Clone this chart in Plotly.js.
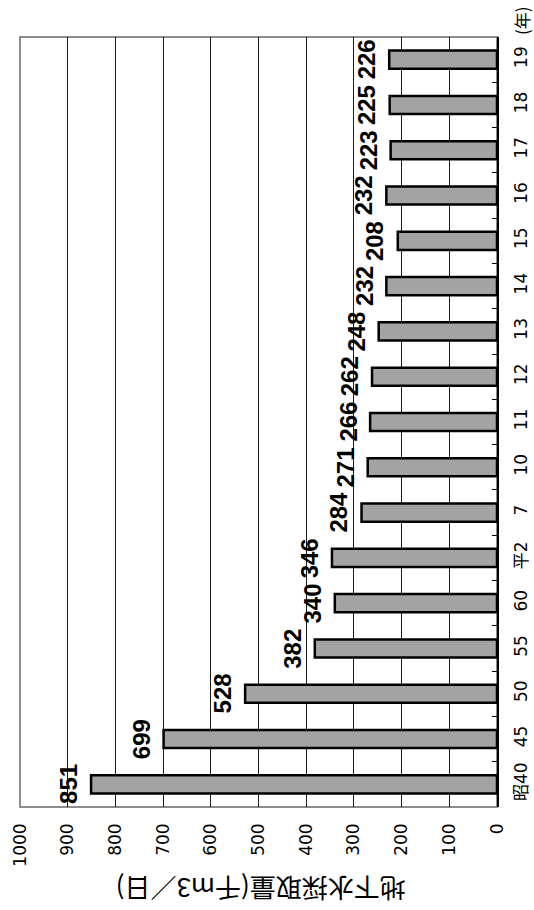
<!DOCTYPE html>
<html>
<head>
<meta charset="utf-8">
<script src="https://cdn.plot.ly/plotly-3.0.1.min.js"></script>
<style>
  html, body { margin: 0; padding: 0; background: #fff; }
  #chart { width: 534px; height: 910px; }
</style>
</head>
<body>
<div id="chart"></div>
<script>
// Data
const categories = ["昭40", "45", "50", "55", "60", "平2", "7", "10", "11", "12", "13", "14", "15", "16", "17", "18", "19"];
const values = [851, 699, 528, 382, 340, 346, 284, 271, 266, 262, 248, 232, 208, 232, 223, 225, 226];
const valueTicks = [0, 100, 200, 300, 400, 500, 600, 700, 800, 900, 1000];
const axisTitle = "地下水採取量(千m3／日)";
const unitLabel = "(年)";

const labelFont = { family: "'Liberation Sans', Arial, sans-serif", size: 24, color: "#000", weight: "bold" };
const xTickFont = { family: "'DejaVu Sans', 'Noto Sans CJK JP', sans-serif", size: 17, color: "#000" };
const yTickFont = { family: "'DejaVu Sans', 'Noto Sans CJK JP', sans-serif", size: 17, color: "#000" };

const trace = {
  type: "bar",
  orientation: "h",
  x: values,
  y: categories,
  marker: { color: "#a3a3a3", line: { color: "#000", width: 2.5 } },
  hoverinfo: "none"
};

// value labels, placed by category index on the category axis
const annotations = values.map((v, i) => ({
  x: v, y: i, xref: "x", yref: "y",
  text: String(v),
  textangle: -90,
  xanchor: "right", yanchor: "middle",
  xshift: -7,
  showarrow: false,
  font: labelFont
}));

annotations.push({
  x: 1.05, y: 1.022, xref: "paper", yref: "paper",
  text: unitLabel, textangle: -90, showarrow: false,
  xanchor: "center", yanchor: "middle",
  font: { family: "'Noto Sans CJK JP', sans-serif", size: 17, color: "#000" }
});
annotations.push({
  x: 0.505, y: -0.108, xref: "paper", yref: "paper",
  text: axisTitle, textangle: 180, showarrow: false,
  xanchor: "center", yanchor: "middle",
  font: { family: "'Noto Sans CJK JP', sans-serif", size: 26, color: "#000" }
});

const layout = {
  width: 534, height: 910,
  margin: { l: 20, r: 37, t: 37, b: 103 },
  paper_bgcolor: "#fff", plot_bgcolor: "#fff",
  showlegend: false,
  bargap: 0.6,
  xaxis: {
    range: [1000, 0],
    tickvals: valueTicks,
    ticktext: valueTicks.map(String),
    tickangle: -90,
    tickfont: xTickFont,
    ticks: "",
    ticklabelstandoff: 12,
    showgrid: true, gridcolor: "#1a1a1a", gridwidth: 1,
    zeroline: false,
    showline: false,
    fixedrange: true
  },
  yaxis: {
    type: "category",
    range: [-0.5, categories.length - 0.5],
    autorange: false,
    side: "right",
    tickangle: -90,
    tickfont: yTickFont,
    ticks: "inside", ticklen: 5, tickcolor: "#000", tickwidth: 1,
    tickson: "boundaries",
    ticklabelstandoff: 8,
    showgrid: false,
    showline: true, linecolor: "#000", linewidth: 2,
    zeroline: false,
    fixedrange: true
  },
  shapes: [{
    type: "rect", xref: "paper", yref: "paper", x0: 0, x1: 1, y0: 0, y1: 1,
    line: { color: "#8c8c8c", width: 2 }, layer: "below"
  }],
  annotations: annotations
};

Plotly.newPlot("chart", [trace], layout, { displayModeBar: false, staticPlot: true });
</script>
</body>
</html>
